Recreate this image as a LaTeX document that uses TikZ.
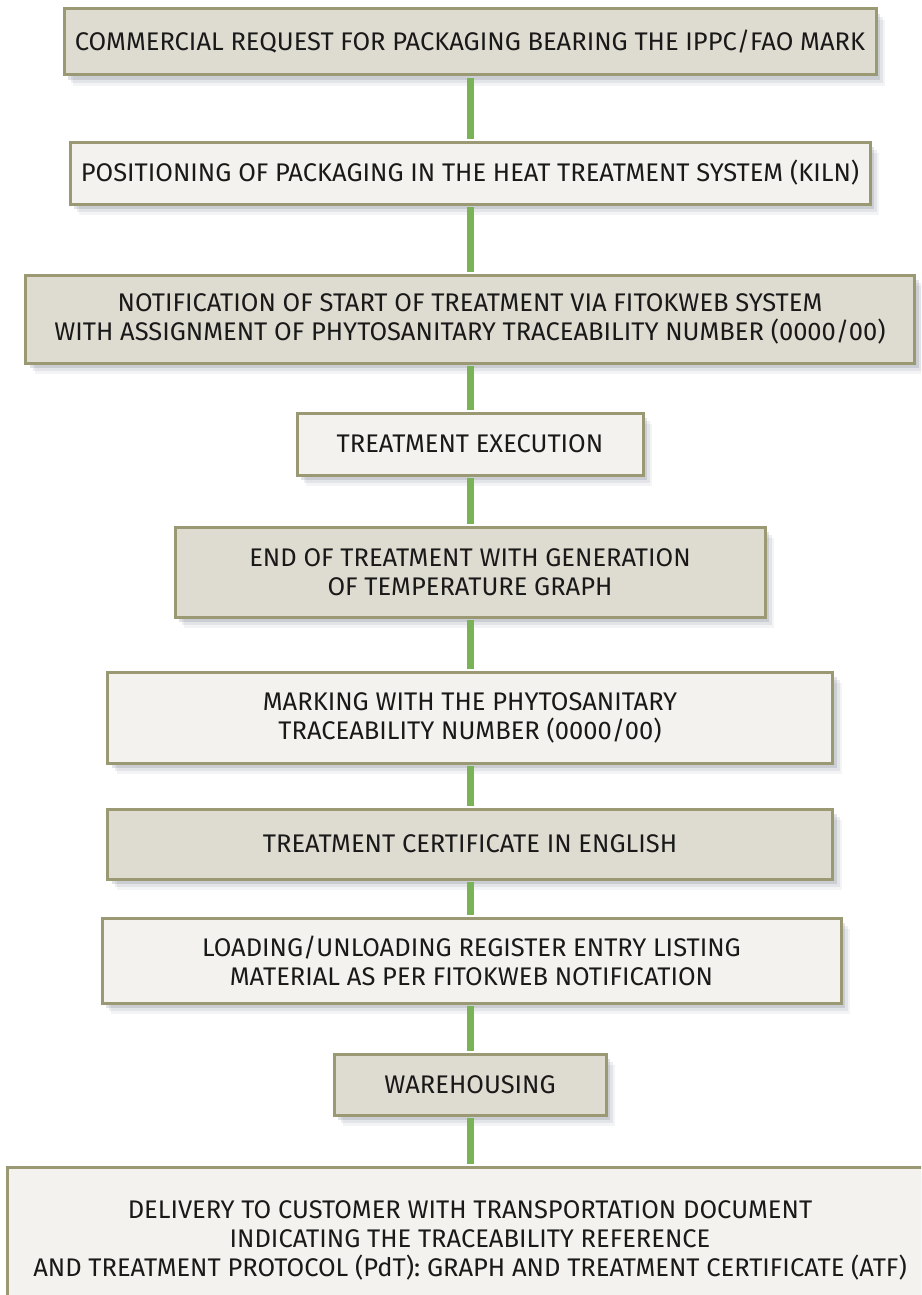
\documentclass[tikz,border=0pt]{standalone}
\usepackage{fontspec}
\setmainfont{Fira Sans}
\usetikzlibrary{shadows}
\definecolor{boxline}{RGB}{155,153,115}
\definecolor{darkfill}{RGB}{222,219,208}
\definecolor{lightfill}{RGB}{243,242,238}
\definecolor{flowgreen}{RGB}{122,179,85}
\definecolor{shadowcol}{RGB}{110,118,135}
\definecolor{textcol}{RGB}{25,25,25}

\begin{document}
\begin{tikzpicture}[x=1pt,y=-1pt]
\tikzstyle{every node}+=[inner sep=0pt, align=center, text=textcol,
  font=\fontsize{25.5}{29}\selectfont]
\tikzstyle{stage}=[draw=boxline, line width=3pt,
  drop shadow={shadow xshift=9pt, shadow yshift=-11pt, opacity=0.08, fill=shadowcol},
  drop shadow={shadow xshift=7pt, shadow yshift=-8pt, opacity=0.12, fill=shadowcol},
  drop shadow={shadow xshift=4pt, shadow yshift=-5pt, opacity=0.2, fill=shadowcol}]
\tikzstyle{darkstage}=[stage, fill=darkfill]
\tikzstyle{lightstage}=[stage, fill=lightfill]
\tikzstyle{link}=[flowgreen, line width=7pt, shorten <=1.5pt, shorten >=1.5pt]
\useasboundingbox (0,0) rectangle (921,1295);
\clip (0,0) rectangle (921,1295);
\fill [white] (0,0) rectangle (921,1295);
% stages of the procedure
\node [darkstage, minimum width=812, minimum height=66] (request) at (470,42)
  {COMMERCIAL REQUEST FOR PACKAGING BEARING THE IPPC/FAO MARK};
\node [lightstage, minimum width=800, minimum height=62] (kiln) at (470,173)
  {POSITIONING OF PACKAGING IN THE HEAT TREATMENT SYSTEM (KILN)};
\node [darkstage, minimum width=889, minimum height=88] (notify) at (470,319)
  {NOTIFICATION OF START OF TREATMENT VIA FITOKWEB SYSTEM\\
   WITH ASSIGNMENT OF PHYTOSANITARY TRACEABILITY NUMBER (0000/00)};
\node [lightstage, minimum width=346, minimum height=62] (exec) at (470,444)
  {TREATMENT EXECUTION};
\node [darkstage, minimum width=590, minimum height=90] (graph) at (470,572)
  {END OF TREATMENT WITH GENERATION\\ OF TEMPERATURE GRAPH};
\node [lightstage, minimum width=725, minimum height=91] (marking) at (470,717.5)
  {MARKING WITH THE PHYTOSANITARY\\ TRACEABILITY NUMBER (0000/00)};
\node [darkstage, minimum width=725, minimum height=70] (cert) at (470,844)
  {TREATMENT CERTIFICATE IN ENGLISH};
\node [lightstage, minimum width=739, minimum height=85] (register) at (471.5,960.5)
  {LOADING/UNLOADING REGISTER ENTRY LISTING\\ MATERIAL AS PER FITOKWEB NOTIFICATION};
\node [darkstage, minimum width=272, minimum height=61] (store) at (470,1084.5)
  {WAREHOUSING};
\node [lightstage, minimum width=926, minimum height=146] (delivery) at (470,1240)
  {DELIVERY TO CUSTOMER WITH TRANSPORTATION DOCUMENT\\
   INDICATING THE TRACEABILITY REFERENCE\\
   AND TREATMENT PROTOCOL (PdT): GRAPH AND TREATMENT CERTIFICATE (ATF)};
% green flow line
\draw [link] (request.south) -- (kiln.north);
\draw [link] (kiln.south) -- (notify.north);
\draw [link] (notify.south) -- (exec.north);
\draw [link] (exec.south) -- (graph.north);
\draw [link] (graph.south) -- (marking.north);
\draw [link] (marking.south) -- (cert.north);
\draw [link] (cert.south) -- (register.north -| cert.south);
\draw [link] (register.south -| store.north) -- (store.north);
\draw [link] (store.south) -- (delivery.north);
\end{tikzpicture}
\end{document}
